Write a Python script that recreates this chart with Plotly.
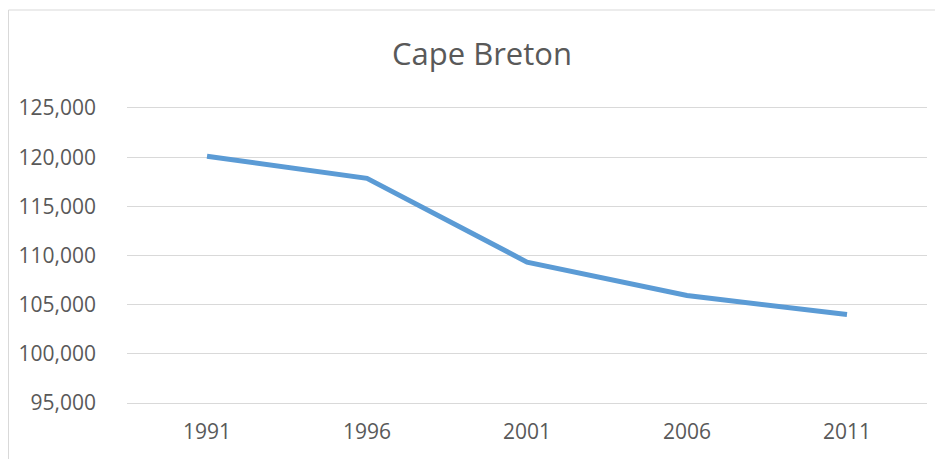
import plotly.graph_objects as go

years = ["1991", "1996", "2001", "2006", "2011"]
population = [120100, 117850, 109330, 105930, 104000]
y_ticks = [95000, 100000, 105000, 110000, 115000, 120000, 125000]
y_tick_labels = ["95,000", "100,000", "105,000", "110,000", "115,000", "120,000", "125,000"]

# page has an 8px body margin, so the figure is sized to fit the window
W, H = 935, 451
L, R, T, B = 119, 16, 100, 56
pw, ph = W - L - R, H - T - B

def px(x):
    return (x - L) / pw

def py(y):
    return (H - B - y) / ph

fig = go.Figure()
fig.add_trace(go.Scatter(
    x=years, y=population, mode="lines",
    line=dict(color="#5B9BD5", width=5),
    hoverinfo="x+y",
))

fig.update_layout(
    width=W, height=H,
    margin=dict(l=L, r=R, t=T, b=B),
    paper_bgcolor="white", plot_bgcolor="white",
    showlegend=False,
    title=dict(text="Cape Breton", x=474 / W, xanchor="center", y=1 - 46 / H, yanchor="middle",
               font=dict(family="Open Sans", size=31, color="#595959")),
    font=dict(family="Open Sans", color="#595959"),
    xaxis=dict(type="category", range=[-0.5, 4.5], showgrid=False, zeroline=False,
               showline=True, mirror=True, linecolor="#D9D9D9", linewidth=1,
               ticks="", tickfont=dict(size=21, color="#595959"), ticklabelstandoff=10),
    yaxis=dict(range=[95000, 125000], tickvals=y_ticks, ticktext=y_tick_labels,
               showgrid=True, gridcolor="#D9D9D9", gridwidth=1, zeroline=False, showline=False,
               ticks="", tickfont=dict(size=21, color="#595959"), ticklabelstandoff=30),
    shapes=[dict(type="rect", xref="paper", yref="paper",
                 x0=px(0.5), x1=px(990), y0=py(500), y1=py(2),
                 line=dict(color="#D9D9D9", width=1), fillcolor="rgba(0,0,0,0)", layer="below")],
)

fig.write_html("out.html")
